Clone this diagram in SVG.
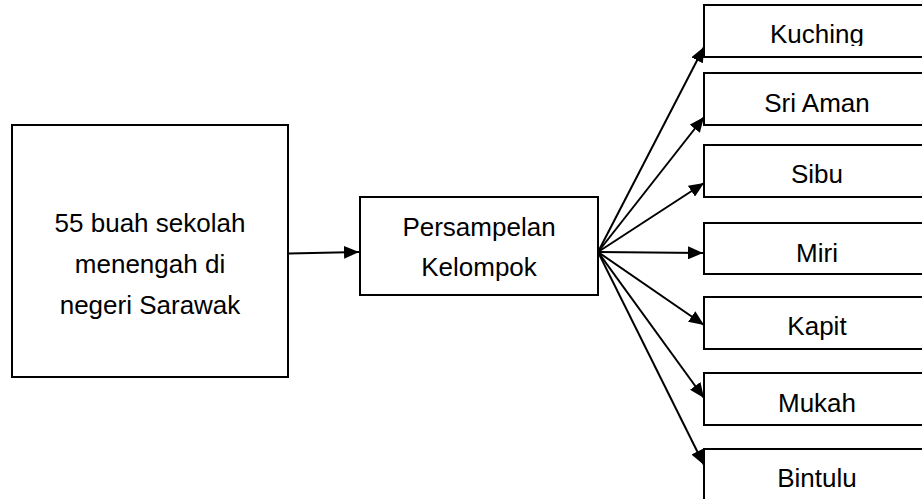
<svg xmlns="http://www.w3.org/2000/svg" width="922" height="499" viewBox="0 0 922 499">
  <style>
    .box { fill: #ffffff; stroke: #000000; stroke-width: 2; }
    .lbl { font-family: "Liberation Sans", Arial, sans-serif; font-size: 26px; fill: #000000; text-anchor: middle; }
    .conn { stroke: #000000; stroke-width: 2; fill: none; marker-end: url(#arrow); }
  </style>
  <defs>
    <marker id="arrow" markerUnits="userSpaceOnUse" markerWidth="16" markerHeight="13" refX="15" refY="6.5" orient="auto">
      <path d="M0,0 L15,6.5 L0,13 z" fill="#000000"/>
    </marker>
    <clipPath id="clipKuching">
      <rect x="705" y="6" width="240" height="40"/>
    </clipPath>
  </defs>
  <rect width="922" height="499" fill="#ffffff"/>

  <g id="node-sekolah">
    <rect class="box" x="12" y="125" width="276" height="252"/>
    <text class="lbl" x="150" y="232">55 buah sekolah</text>
    <text class="lbl" x="150" y="273">menengah di</text>
    <text class="lbl" x="150" y="314">negeri Sarawak</text>
  </g>

  <g id="node-persampelan">
    <rect class="box" x="360" y="197" width="238" height="98"/>
    <text class="lbl" x="479" y="236">Persampelan</text>
    <text class="lbl" x="479" y="276">Kelompok</text>
  </g>

  <g id="node-kuching">
    <rect class="box" x="704" y="5" width="240" height="52"/>
    <text class="lbl" x="817" y="43" clip-path="url(#clipKuching)">Kuching</text>
  </g>
  <g id="node-sriaman">
    <rect class="box" x="704" y="73" width="240" height="52"/>
    <text class="lbl" x="817" y="112">Sri Aman</text>
  </g>
  <g id="node-sibu">
    <rect class="box" x="704" y="145" width="240" height="52"/>
    <text class="lbl" x="817" y="183">Sibu</text>
  </g>
  <g id="node-miri">
    <rect class="box" x="704" y="223" width="240" height="51"/>
    <text class="lbl" x="817" y="262">Miri</text>
  </g>
  <g id="node-kapit">
    <rect class="box" x="704" y="297" width="240" height="52"/>
    <text class="lbl" x="817" y="335">Kapit</text>
  </g>
  <g id="node-mukah">
    <rect class="box" x="704" y="373" width="240" height="52"/>
    <text class="lbl" x="817" y="412">Mukah</text>
  </g>
  <g id="node-bintulu">
    <rect class="box" x="704" y="449" width="240" height="60"/>
    <text class="lbl" x="817" y="487">Bintulu</text>
  </g>

  <g id="connectors">
    <line class="conn" x1="289" y1="253.5" x2="359" y2="252"/>
    <line class="conn" x1="598" y1="252" x2="704" y2="47"/>
    <line class="conn" x1="598" y1="252" x2="704" y2="117"/>
    <line class="conn" x1="598" y1="252" x2="704" y2="183"/>
    <line class="conn" x1="598" y1="252" x2="703" y2="253"/>
    <line class="conn" x1="598" y1="252" x2="704" y2="325"/>
    <line class="conn" x1="598" y1="252" x2="704" y2="398"/>
    <line class="conn" x1="598" y1="252" x2="704" y2="465"/>
  </g>
</svg>
